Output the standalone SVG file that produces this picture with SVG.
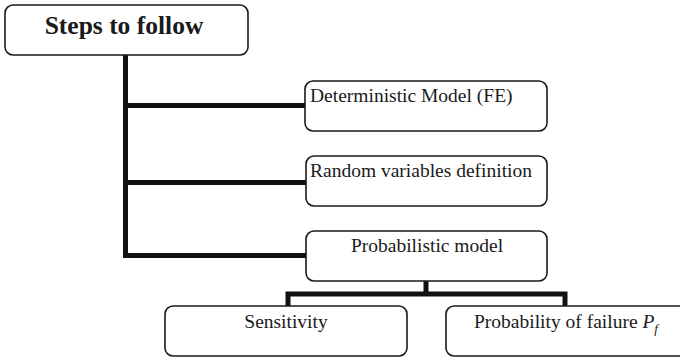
<svg xmlns="http://www.w3.org/2000/svg" width="680" height="358" viewBox="0 0 680 358">
<style>
.box{fill:#fff;stroke:#1a1a1a;stroke-width:1.6}
.t{font-family:"Liberation Serif","Times New Roman",serif;font-size:19.5px;fill:#1a1a1a}
.conn{fill:none;stroke:#111;stroke-width:5;stroke-linejoin:miter;stroke-linecap:square}
</style>
<g id="connectors">
<path class="conn" d="M125.5,57 V255.5 H305"/>
<path class="conn" d="M125.5,105.5 H305"/>
<path class="conn" d="M125.5,182.5 H305"/>
<path class="conn" d="M426,283 V294 M288,305 V294 H565 V305"/>
</g>
<g id="n-steps">
<rect class="box" x="5" y="5" width="243" height="50" rx="8"/>
<text x="124" y="34" text-anchor="middle" style="font-family:'Liberation Serif','Times New Roman',serif;font-weight:bold;font-size:25.5px;fill:#1a1a1a">Steps to follow</text>
</g>
<g id="n-det">
<rect class="box" x="305" y="81" width="242" height="50" rx="8"/>
<text class="t" x="310" y="102">Deterministic Model (FE)</text>
</g>
<g id="n-rand">
<rect class="box" x="306" y="156" width="241" height="50" rx="8"/>
<text class="t" x="310" y="177">Random variables definition</text>
</g>
<g id="n-prob">
<rect class="box" x="306" y="231" width="241" height="50" rx="8"/>
<text class="t" x="427" y="252" text-anchor="middle">Probabilistic model</text>
</g>
<g id="n-sens">
<rect class="box" x="165" y="306" width="242" height="50" rx="8"/>
<text class="t" x="286" y="328" text-anchor="middle">Sensitivity</text>
</g>
<g id="n-fail">
<rect class="box" x="446" y="306" width="242" height="50" rx="8"/>
<text class="t" x="566" y="328" text-anchor="middle">Probability of failure <tspan font-style="italic">P</tspan><tspan font-style="italic" font-size="13" dy="5">f</tspan></text>
</g>
</svg>
